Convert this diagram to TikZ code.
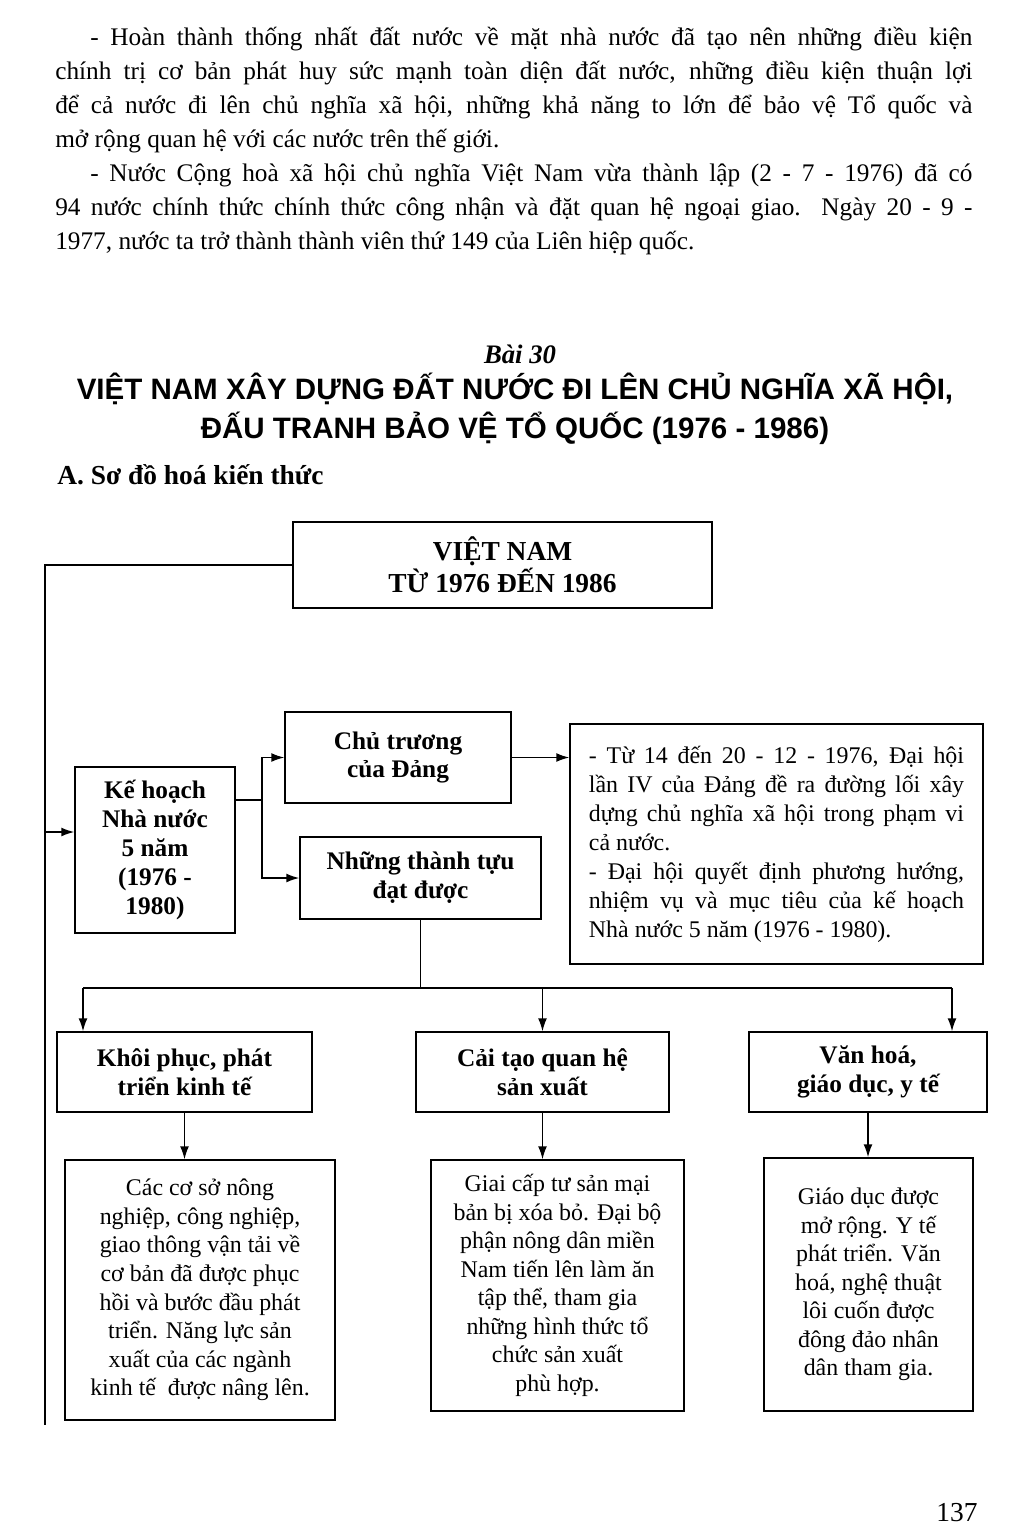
\documentclass[tikz,border=0pt]{standalone}
\usepackage{fontspec}
\setmainfont{Liberation Serif}
\setsansfont{Liberation Sans}
\usetikzlibrary{positioning,arrows.meta}

\begin{document}
\begin{tikzpicture}[
    x=0.025cm, y=-0.025cm,
    box/.style={draw, line width=1.1pt, align=center, inner sep=2pt},
    headbox/.style={box, font=\fontsize{18}{20.6}\selectfont\bfseries},
    notebox/.style={box, font=\fontsize{17}{20.3}\selectfont},
    link/.style={line width=0.9pt},
    arrow/.style={-{Latex[length=3.2mm,width=2.2mm]}, line width=0.9pt}
  ]
    \useasboundingbox (0,0) rectangle (1024,1537);
    % text of the page above the chart
    \node[anchor=north west, inner sep=0pt, text width=22.925cm, align=justify,
      font=\fontsize{18}{24.2}\selectfont] (intro) at (55,27) {%
      \hspace*{0.875cm}- Hoàn thành thống nhất đất nước về mặt nhà nước đã tạo nên những điều kiện\linebreak
      chính trị cơ bản phát huy sức mạnh toàn diện đất nước, những điều kiện thuận lợi\linebreak
      để cả nước đi lên chủ nghĩa xã hội, những khả năng to lớn để bảo vệ Tổ quốc và\linebreak
      mở rộng quan hệ với các nước trên thế giới.\par
      \hspace*{0.875cm}- Nước Cộng hoà xã hội chủ nghĩa Việt Nam vừa thành lập (2 - 7 - 1976) đã có\linebreak
      94 nước chính thức chính thức công nhận và đặt quan hệ ngoại giao. Ngày 20 - 9 -\linebreak
      1977, nước ta trở thành thành viên thứ 149 của Liên hiệp quốc.};
    \node[font=\fontsize{19}{23}\selectfont\bfseries\itshape] (lesson) at (520,354) {Bài 30};
    \node[align=center, font=\sffamily\bfseries\fontsize{21}{27.7}\selectfont] (title) at (515,409)
      {VIỆT NAM XÂY DỰNG ĐẤT NƯỚC ĐI LÊN CHỦ NGHĨA XÃ HỘI,\\ĐẤU TRANH BẢO VỆ TỔ QUỐC (1976 - 1986)};
    \node[anchor=west, inner sep=0pt, font=\fontsize{19.5}{23}\selectfont\bfseries] (part) at (57,475)
      {A. Sơ đồ hoá kiến thức};

    % chart
    \node[headbox, minimum width=10.475cm, minimum height=2.15cm, font=\fontsize{19.5}{22.8}\selectfont\bfseries]
      (top) at (502.5,565) {VIỆT NAM\\TỪ 1976 ĐẾN 1986};
    \node[headbox, minimum width=4cm, minimum height=4.15cm] (plan) at (155,850)
      {Kế hoạch\\Nhà nước\\5 năm\\(1976 -\\1980)};
    \node[headbox, minimum width=5.65cm, minimum height=2.275cm] (policy) at (398,757.5)
      {Chủ trương\\của Đảng};
    \node[box, minimum width=10.325cm, minimum height=6cm, text width=9.375cm, align=justify,
      font=\fontsize{17}{20.6}\selectfont] (congress) at (776.5,844) {%
      - Từ 14 đến 20 - 12 - 1976, Đại hội\linebreak
      lần IV của Đảng đề ra đường lối xây\linebreak
      dựng chủ nghĩa xã hội trong phạm vi\linebreak
      cả nước.\par
      - Đại hội quyết định phương hướng,\linebreak
      nhiệm vụ và mục tiêu của kế hoạch\linebreak
      Nhà nước 5 năm (1976 - 1980).};
    \node[headbox, minimum width=6.025cm, minimum height=2.05cm] (achieve) at (420.5,878)
      {Những thành tựu\\đạt được};

    \node[headbox, minimum width=6.375cm, minimum height=2cm] (econ) at (184.5,1072)
      {Khôi phục, phát\\triển kinh tế};
    \node[headbox, minimum width=6.325cm, minimum height=2cm] (relat) at (542.5,1072)
      {Cải tạo quan hệ\\sản xuất};
    \node[headbox, minimum width=5.95cm, minimum height=2cm] (culture) at (868,1072)
      {Văn hoá,\\giáo dục, y tế};

    \node[notebox, minimum width=6.75cm, minimum height=6.5cm] (econtxt) at (200,1290)
      {Các cơ sở nông\\nghiệp, công nghiệp,\\giao thông vận tải về\\cơ bản đã được phục\\hồi và bước đầu phát\\triển. Năng lực sản\\xuất của các ngành\\kinh tế\ \ được nâng lên.};
    \node[notebox, minimum width=6.325cm, minimum height=6.275cm] (relattxt) at (557.5,1285.5)
      {Giai cấp tư sản mại\\bản bị xóa bỏ. Đại bộ\\phận nông dân miền\\Nam tiến lên làm ăn\\tập thể, tham gia\\những hình thức tổ\\chức sản xuất\\phù hợp.};
    \node[notebox, minimum width=5.225cm, minimum height=6.325cm] (culttxt) at (868.5,1284.5)
      {Giáo dục được\\mở rộng. Y tế\\phát triển. Văn\\hoá, nghệ thuật\\lôi cuốn được\\đông đảo nhân\\dân tham gia.};

    \node[font=\fontsize{19.5}{23}\selectfont] (page) at (957,1513) {137};

    % connectors
    \coordinate (spine) at (45,1425);
    \coordinate (entry) at (45,832);
    \coordinate (fork) at (262,800);
    \coordinate (busL) at (83,988);
    \coordinate (busR) at (952,988);
    \draw[link] (top.west) -- (top.west -| spine) -- (spine);
    \draw[arrow] (entry) -- (entry -| plan.west);
    \draw[link] (plan.east |- fork) -- (fork);
    \draw[arrow] (fork) |- (policy.west);
    \draw[arrow] (fork) |- (achieve.west);
    \draw[arrow] (policy.east) -- (policy.east -| congress.west);
    \draw[link] (achieve.south) -- (achieve.south |- busL);
    \draw[link] (busL) -- (busR);
    \draw[arrow] (busL) -- (busL |- econ.north);
    \draw[arrow] (relat.north |- busL) -- (relat.north);
    \draw[arrow] (busR) -- (busR |- culture.north);
    \draw[arrow] (econ.south) -- (econ.south |- econtxt.north);
    \draw[arrow] (relat.south) -- (relat.south |- relattxt.north);
    \draw[arrow] (culture.south) -- (culture.south |- culttxt.north);
  \end{tikzpicture}
\end{document}
